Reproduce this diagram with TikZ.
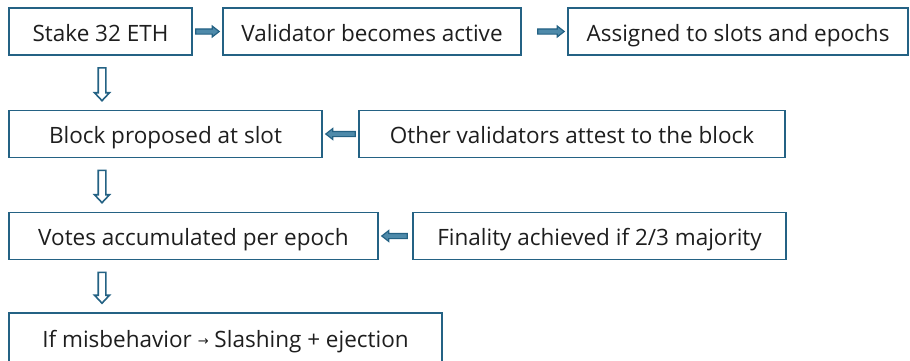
\documentclass[tikz,border=0pt]{standalone}
\usepackage{fontspec}
\setmainfont{Open Sans}
\newfontfamily\symfont{DejaVu Sans}
\usetikzlibrary{calc}
\definecolor{edge}{RGB}{36,98,132}
\definecolor{arrowfill}{RGB}{78,138,170}
\definecolor{ink}{RGB}{30,30,30}
% Block arrow drawn between two anchors: gaps at both ends, shaft and head half-widths
\tikzset{
  ba gap start/.store in=\bagapstart, ba gap end/.store in=\bagapend,
  ba shaft/.store in=\bashaft, ba head/.store in=\bahead, ba head length/.store in=\baheadlen,
  ba gap start=3pt, ba gap end=3pt, ba shaft=3pt, ba head=6pt, ba head length=8pt,
  blockarrow/.style={line join=miter,to path={
    ($(\tikztostart)!\bagapstart!(\tikztotarget)$) coordinate (ba-s)
    ($(\tikztotarget)!\bagapend!(\tikztostart)$) coordinate (ba-t)
    ($(ba-t)!\baheadlen!(ba-s)$) coordinate (ba-h)
    ($(ba-s)!\bashaft!90:(ba-t)$) -- ($(ba-h)!\bashaft!-90:(ba-s)$)
    -- ($(ba-h)!\bahead!-90:(ba-s)$) -- (ba-t)
    -- ($(ba-h)!\bahead!90:(ba-s)$) -- ($(ba-h)!\bashaft!90:(ba-s)$)
    -- ($(ba-s)!\bashaft!-90:(ba-t)$) -- cycle}}}
\begin{document}
\begin{tikzpicture}[x=1pt,y=-1pt,
  stepbox/.style={draw=edge,line width=1.6pt,fill=white,text=ink,
    minimum height=47pt,inner sep=0pt,anchor=center,text height=19pt,text depth=0pt,
    font=\fontsize{22.5}{26}\selectfont},
  hflow/.style={blockarrow,draw=edge,fill=arrowfill,line width=1.2pt,
    ba shaft=2.6pt,ba head=5.5pt,ba head length=7pt},
  vflow/.style={blockarrow,draw=edge,fill=white,line width=1.6pt,
    ba shaft=3.8pt,ba head=7.5pt,ba head length=8pt}]
\useasboundingbox (0,0) rectangle (910,360);
% top row
\node[stepbox,minimum width=183pt] (stake) at (100.5,31.5) {Stake 32 ETH};
\node[stepbox,minimum width=298pt] (active) at (372,31.5) {Validator becomes active};
\node[stepbox,minimum width=340pt] (assign) at (738,31.5) {Assigned to slots and epochs};
% second row
\node[stepbox,minimum width=313pt] (propose) at (165.5,134) {Block proposed at slot};
\node[stepbox,minimum width=426pt] (attest) at (572,134) {Other validators attest to the block};
% third row
\node[stepbox,minimum width=369pt] (votes) at (193.5,236) {Votes accumulated per epoch};
\node[stepbox,minimum width=373pt] (final) at (599.5,236) {Finality achieved if 2/3 majority};
% bottom row
\node[stepbox,minimum width=433pt,minimum height=50pt] (slash) at (225.5,338) {If misbehavior {\symfont\fontsize{13}{14}\selectfont\raisebox{2.5pt}{→}} Slashing + ejection};
% connectors
\draw[hflow,ba gap start=3pt,ba gap end=3pt] (stake.east) to (active.west);
\draw[hflow,ba gap start=16pt,ba gap end=3pt] (active.east) to (assign.west);
\draw[hflow,ba gap start=3pt,ba gap end=3pt] (attest.west) to (propose.east);
\draw[hflow,ba gap start=5pt,ba gap end=3pt] (final.west) to (votes.east);
\coordinate (c1) at ($(stake.south)+(1.5,0)$);
\draw[vflow,ba gap start=12pt,ba gap end=9pt] (c1) to (c1 |- propose.north);
\draw[vflow,ba gap start=12pt,ba gap end=9pt] (c1 |- propose.south) to (c1 |- votes.north);
\draw[vflow,ba gap start=12pt,ba gap end=9pt] (c1 |- votes.south) to (c1 |- slash.north);
\end{tikzpicture}
\end{document}
